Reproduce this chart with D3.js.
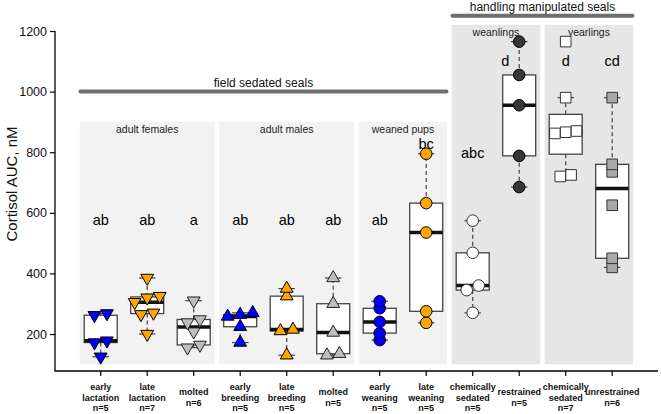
<!DOCTYPE html>
<html><head><meta charset="utf-8">
<script src="https://cdn.jsdelivr.net/npm/d3@7"></script>
<style>
body{margin:0;background:#fff}
svg{display:block}
text{font-family:"Liberation Sans",Arial,Helvetica,sans-serif}
</style>
</head><body>
<svg id="c" width="661" height="414"></svg>
<script>
// ---------- data ----------
const categories = [
  "early\nlactation\nn=5", "late\nlactation\nn=7", "molted\nn=6",
  "early\nbreeding\nn=5", "late\nbreeding\nn=5", "molted\nn=5",
  "early\nweaning\nn=5", "late\nweaning\nn=5",
  "chemically\nsedated\nn=5", "restrained\nn=5",
  "chemically\nsedated\nn=7", "unrestrained\nn=6"
];
const earlyLactation   = [125, 172, 178, 262, 268];
const lateLactation    = [200, 265, 270, 305, 320, 325, 385];
const moltedFemales    = [155, 164, 208, 238, 248, 310];
const earlyBreeding    = [172, 224, 258, 264, 270];
const lateBreeding     = [130, 210, 215, 325, 350];
const moltedMales      = [130, 135, 205, 300, 385];
const earlyWeaning     = [180, 203, 240, 285, 308];
const lateWeaning      = [237, 275, 535, 632, 795];
const weanlingSedated  = [270, 345, 360, 468, 574];
const weanlingRestrain = [685, 788, 955, 1055, 1165];
const yearlingSedated  = [720, 725, 862, 866, 870, 980, 1165];
const yearlingUnrestr  = [420, 450, 625, 735, 760, 980];
const seriesValues = [earlyLactation, lateLactation, moltedFemales, earlyBreeding,
  lateBreeding, moltedMales, earlyWeaning, lateWeaning, weanlingSedated,
  weanlingRestrain, yearlingSedated, yearlingUnrestr];

const letters = ["ab","ab","a","ab","ab","ab","ab","bc","abc","d","d","cd"];
const letterAt = [575,575,575,575,575,575,575,827,797,1100,1100,1100];

const panelLabels = ["adult females","adult males","weaned pups","weanlings","yearlings"];
const panelFrom = [0,3,6,8,10];
const panelTo   = [2,5,7,9,11];
const panelTone = ["light","light","light","dark","dark"];

const superLabels = ["field sedated seals","handling manipulated seals"];
const superFrom = [0,8];
const superTo   = [7,11];
const superAt   = [1000,1250];

const yTicks = [200,400,600,800,1000,1200];

// ---------- styles ----------
const shapes = ["down","down","down","up","up","up","circle","circle","circle","circle","square","square"];
const fills  = ["#0000ff","#ffa500","#bebebe","#0000ff","#ffa500","#bebebe","#0000ff","#ffa500","#ffffff","#363636","#ffffff","#a8a8a8"];
const strokes= ["#000","#000","#222","#000","#000","#222","#000","#000","#333","#000","#333","#333"];

const svg = d3.select("#c");
const x = d3.scaleBand().domain(d3.range(categories.length)).range([77.45, 635.45]);
const y = d3.scaleLinear().domain([78, 1200]).range([371, 31]);
const bw = x.bandwidth();
const cx = i => x(i) + bw / 2;

// panels
const panelTop = {light: 900, dark: 1220};
const panelFill = {light: "#f2f2f2", dark: "#e6e6e6"};
panelLabels.forEach((lab, k) => {
  const x0 = x(panelFrom[k]) + 2.25, x1 = x(panelTo[k]) + bw - 2.25;
  const top = y(panelTop[panelTone[k]]);
  svg.append("rect").attr("x", x0).attr("y", top).attr("width", x1 - x0)
    .attr("height", y(100) - top).attr("fill", panelFill[panelTone[k]]);
  svg.append("text").attr("x", (x0 + x1) / 2).attr("y", top + 7).attr("dy", "0.35em")
    .attr("text-anchor", "middle").attr("font-size", 10.5).attr("fill", "#222").text(lab);
});

// super group lines
superLabels.forEach((lab, k) => {
  const x0 = x(superFrom[k]) + 3, x1 = x(superTo[k]) + bw - 3;
  svg.append("line").attr("x1", x0).attr("x2", x1).attr("y1", y(superAt[k])).attr("y2", y(superAt[k]))
    .attr("stroke", "#6e6e6e").attr("stroke-width", 4).attr("stroke-linecap", "round");
  svg.append("text").attr("x", (x0 + x1) / 2).attr("y", y(superAt[k]) - 4.5)
    .attr("text-anchor", "middle").attr("font-size", 12).attr("fill", "#111").text(lab);
});

// stats (Tukey five-number summary, as in R boxplot)
function fivenum(a) {
  const s = a.slice().sort((p, q) => p - q), n = s.length;
  const n4 = Math.floor((n + 3) / 2) / 2;
  const d = [1, n4, (n + 1) / 2, n + 1 - n4, n];
  return d.map(v => 0.5 * (s[Math.floor(v) - 1] + s[Math.ceil(v) - 1]));
}

const boxW = 33, stapleW = 16.5;
seriesValues.forEach((vals, i) => {
  const f = fivenum(vals);
  const iqr = f[3] - f[1];
  const lo = d3.min(vals.filter(v => v >= f[1] - 1.5 * iqr));
  const hi = d3.max(vals.filter(v => v <= f[3] + 1.5 * iqr));
  const c = cx(i);
  const g = svg.append("g");
  [[f[1], lo], [f[3], hi]].forEach(([a, b]) => {
    if (a === b) return;
    g.append("line").attr("x1", c).attr("x2", c).attr("y1", y(a)).attr("y2", y(b))
      .attr("stroke", "#444").attr("stroke-width", 1.2).attr("stroke-dasharray", "4,3");
    g.append("line").attr("x1", c - stapleW / 2).attr("x2", c + stapleW / 2)
      .attr("y1", y(b)).attr("y2", y(b)).attr("stroke", "#444").attr("stroke-width", 1.2);
  });
  g.append("rect").attr("x", c - boxW / 2).attr("y", y(f[3])).attr("width", boxW)
    .attr("height", y(f[1]) - y(f[3])).attr("fill", "#fff").attr("stroke", "#444").attr("stroke-width", 1.3);
  g.append("line").attr("x1", c - boxW / 2).attr("x2", c + boxW / 2)
    .attr("y1", y(f[2])).attr("y2", y(f[2])).attr("stroke", "#111").attr("stroke-width", 3.5);
});

// points: side-by-side spreading of near-equal values
function shapePath(kind) {
  if (kind === "circle") return d3.symbol(d3.symbolCircle, Math.PI * 5.8 * 5.8)();
  if (kind === "square") { const h = 5.3; return `M${-h},${-h}H${h}V${h}H${-h}Z`; }
  const r = 7.4, w = r * Math.sqrt(3) / 2;
  return kind === "up" ? `M0,${-r}L${w},${r / 2}L${-w},${r / 2}Z` : `M0,${r}L${w},${-r / 2}L${-w},${-r / 2}Z`;
}
const spacing = {up: 12.5, down: 12.5, circle: 12, square: 10.8};
seriesValues.forEach((vals, i) => {
  const s = vals.slice().sort((p, q) => p - q);
  const groups = [];
  s.forEach(v => {
    const last = groups[groups.length - 1];
    if (last && Math.abs(y(last[last.length - 1]) - y(v)) < 6) last.push(v); else groups.push([v]);
  });
  const path = shapePath(shapes[i]);
  groups.forEach(gr => gr.forEach((v, j) => {
    const dx = (j - (gr.length - 1) / 2) * spacing[shapes[i]];
    svg.append("path").attr("d", path).attr("transform", `translate(${cx(i) + dx},${y(v)})`)
      .attr("fill", fills[i]).attr("stroke", strokes[i]).attr("stroke-width", 1);
  }));
});

// significance letters
const letterDx = {9: -14};
letters.forEach((t, i) => {
  svg.append("text").attr("x", cx(i) + (letterDx[i] || 0)).attr("y", y(letterAt[i])).attr("dy", "0.35em")
    .attr("text-anchor", "middle").attr("font-size", 14.5).attr("fill", "#000").text(t);
});

// axes
const yAxis = svg.append("g").attr("transform", "translate(55,0)")
  .call(d3.axisLeft(y).tickValues(yTicks).tickSize(5).tickPadding(3).tickFormat(d3.format("d")));
yAxis.select(".domain").remove();
yAxis.selectAll("text").attr("font-size", 12.5).attr("fill", "#111")
  .style("font-family", '"Liberation Sans",Arial,sans-serif');
yAxis.selectAll("line").attr("stroke", "#000").attr("stroke-width", 1.2);

const xAxis = svg.append("g").attr("transform", "translate(0,371)")
  .call(d3.axisBottom(x).tickSize(5).tickFormat(""));
xAxis.select(".domain").remove();
xAxis.selectAll("line").attr("stroke", "#000").attr("stroke-width", 1.2);

svg.append("path").attr("d", "M55,31V371H658").attr("fill", "none")
  .attr("stroke", "#000").attr("stroke-width", 1.3);

categories.forEach((lab, i) => {
  const lines = lab.split("\n");
  const t = svg.append("text").attr("text-anchor", "middle").attr("font-size", 9)
    .attr("font-weight", "bold").attr("fill", "#111");
  lines.forEach((ln, k) => {
    t.append("tspan").attr("x", cx(i))
      .attr("y", 397.5 + (k - (lines.length - 1) / 2) * 10.6 + 3.2).text(ln);
  });
});

svg.append("text").attr("transform", "translate(17,184) rotate(-90)")
  .attr("text-anchor", "middle").attr("font-size", 15).attr("fill", "#111").text("Cortisol AUC, nM");
</script>
</body></html>
